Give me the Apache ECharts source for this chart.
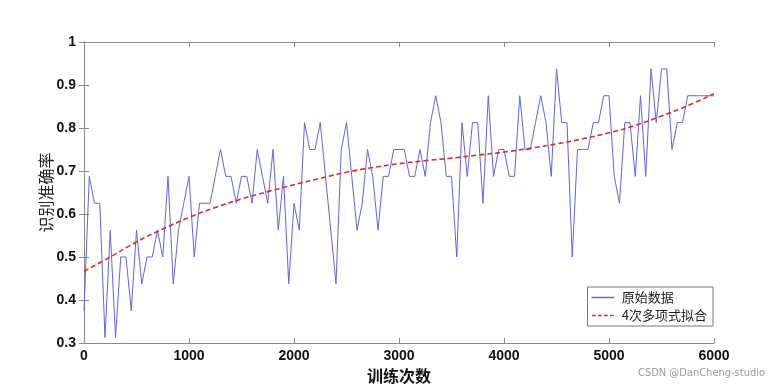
<!DOCTYPE html>
<html><head><meta charset="utf-8">
<script src="https://cdn.jsdelivr.net/npm/echarts@6/dist/echarts.min.js"></script>
<style>html,body{margin:0;padding:0;background:#fff}#c{width:779px;height:389px}</style>
</head><body><div id="c"></div>
<script>
// raw accuracy, every 50 iterations from 0 to 6000
const rawIterStep = 50;
const rawValues = [
0.375,0.6875,0.625,0.625,0.3125,0.5625,0.3125,0.5,0.5,0.375,
0.5625,0.4375,0.5,0.5,0.5625,0.5,0.6875,0.4375,0.5625,0.625,
0.6875,0.5,0.625,0.625,0.625,0.6875,0.75,0.6875,0.6875,0.625,
0.6875,0.6875,0.625,0.75,0.6875,0.625,0.75,0.5625,0.6875,0.4375,
0.625,0.5625,0.8125,0.75,0.75,0.8125,0.6875,0.5625,0.4375,0.75,
0.8125,0.6875,0.5625,0.625,0.75,0.6875,0.5625,0.6875,0.6875,0.75,
0.75,0.75,0.6875,0.6875,0.75,0.6875,0.8125,0.875,0.8125,0.6875,
0.6875,0.5,0.8125,0.6875,0.8125,0.8125,0.625,0.875,0.6875,0.75,
0.75,0.6875,0.6875,0.875,0.75,0.75,0.8125,0.875,0.8125,0.6875,
0.9375,0.8125,0.8125,0.5,0.75,0.75,0.75,0.8125,0.8125,0.875,
0.875,0.6875,0.625,0.8125,0.8125,0.6875,0.875,0.6875,0.9375,0.8125,
0.9375,0.9375,0.75,0.8125,0.8125,0.875,0.875,0.875,0.875,0.875,
0.875
];
// 4th-order polynomial fit curve
const fitIters = [0,250,500,750,1000,1250,1500,1750,2000,2250,2500,2750,3000,3250,3500,3750,4000,4250,4500,4750,5000,5250,5500,5750,6000];
const fitValues = [0.467,0.50,0.535,0.565,0.592,0.615,0.635,0.652,0.668,0.683,0.697,0.708,0.717,0.724,0.730,0.737,0.744,0.753,0.763,0.775,0.789,0.806,0.828,0.852,0.88];
const xTicks = [0,1000,2000,3000,4000,5000,6000];
const yTicks = [0.3,0.4,0.5,0.6,0.7,0.8,0.9,1];
const seriesNames = ['原始数据','4次多项式拟合'];

const rawData = rawValues.map((v,i)=>[i*rawIterStep, v]);
const fitData = fitValues.map((v,i)=>[fitIters[i], v]);

const frame = '#8a8a8a';
const blue = '#6464dc', red = '#e02828';
const lblFont = {fontFamily:'Liberation Sans, Arial, sans-serif', fontWeight:'bold', fontSize:14, color:'#111'};
const solidIcon = 'path://M0,0h30v2h-30z';
const dashIcon = 'path://M0,0h5v2h-5z M8,0h5v2h-5z M16,0h5v2h-5z M24,0h5v2h-5z';
const chart = echarts.init(document.getElementById('c'), null, {renderer:'canvas'});
chart.setOption({
  animation:false,
  backgroundColor:'#fff',
  grid:{left:84,right:65,top:42,bottom:46,containLabel:false},
  xAxis:[{
    type:'value',min:0,max:6000,interval:1000,position:'bottom',
    name:'训练次数',nameLocation:'middle',nameGap:25,nameMoveOverlap:false,
    nameTextStyle:{fontFamily:'Noto Sans CJK SC',fontSize:16,fontWeight:'bold',color:'#111'},
    axisLine:{lineStyle:{color:frame,width:1}},
    axisTick:{inside:true,length:5,lineStyle:{color:frame}},
    axisLabel:Object.assign({margin:6,formatter:v=>String(v)},lblFont),
    splitLine:{show:false}
  },{
    type:'value',min:0,max:6000,interval:1000,position:'top',
    axisLine:{lineStyle:{color:frame,width:1}},
    axisTick:{inside:true,length:5,lineStyle:{color:frame}},
    axisLabel:{show:false},splitLine:{show:false}
  }],
  yAxis:[{
    type:'value',min:0.3,max:1,interval:0.1,position:'left',
    name:'识别准确率',nameLocation:'middle',nameGap:30,nameRotate:90,nameMoveOverlap:false,
    nameTextStyle:{fontFamily:'Noto Sans CJK SC',fontSize:16,color:'#222'},
    axisLine:{show:true,lineStyle:{color:frame,width:1}},
    axisTick:{show:true,inside:true,length:5,lineStyle:{color:frame}},
    axisLabel:Object.assign({margin:8,formatter:v=>String(+v.toFixed(1))},lblFont),
    splitLine:{show:false}
  },{
    type:'value',min:0.3,max:1,interval:0.1,position:'right',
    axisLine:{show:true,lineStyle:{color:frame,width:1}},
    axisTick:{show:true,inside:true,length:5,lineStyle:{color:frame}},
    axisLabel:{show:false},splitLine:{show:false}
  }],
  legend:{
    orient:'vertical',right:66,top:287,
    data:[{name:seriesNames[0],icon:solidIcon},{name:seriesNames[1],icon:dashIcon}],
    backgroundColor:'#fff',borderColor:'#777',borderWidth:1,borderRadius:0,
    padding:[4,6,4,4],itemGap:5,itemWidth:28,itemHeight:1.5,
    textStyle:{fontFamily:'Noto Sans CJK SC',fontSize:13,color:'#222'}
  },
  series:[{
    name:seriesNames[0],type:'line',data:rawData,symbol:'none',
    lineStyle:{color:blue,width:1},itemStyle:{color:blue}
  },{
    name:seriesNames[1],type:'line',data:fitData,symbol:'none',smooth:true,
    lineStyle:{color:red,width:1.6,type:[5,3]},itemStyle:{color:red}
  }],
  graphic:[{type:'text',right:14,top:368,style:{text:'CSDN @DanCheng-studio',fill:'#999',font:'11px "DejaVu Sans Condensed", sans-serif'}}]
});
</script></body></html>
